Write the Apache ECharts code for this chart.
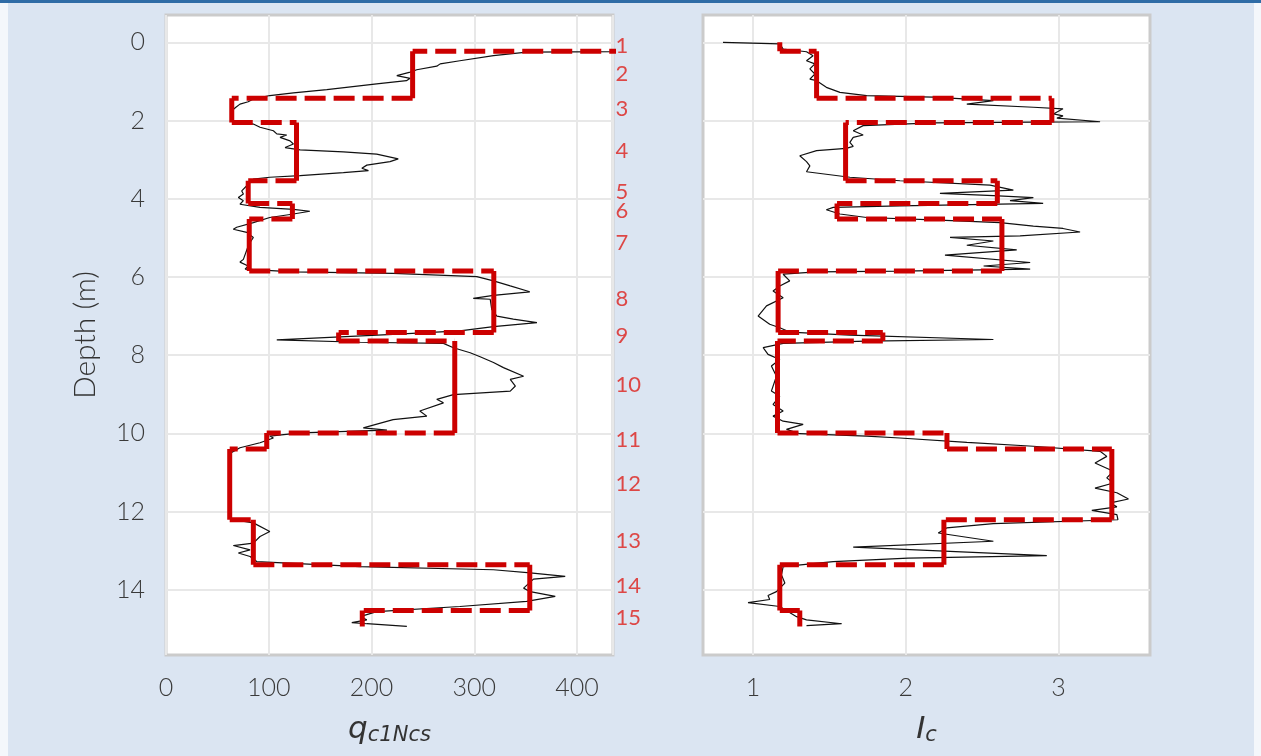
<!DOCTYPE html>
<html>
<head>
<meta charset="utf-8">
<script src="https://cdn.jsdelivr.net/npm/echarts@6/dist/echarts.min.js"></script>
<style>
html,body{margin:0;padding:0;background:#dbe5f2;}
#chart{width:1261px;height:756px;}
</style>
</head>
<body>
<div id="chart"></div>
<script>
// ---- measured profile: q_c1Ncs vs depth ----
const qcDepth = [0.22,0.235,0.25,0.34,0.47,0.55,0.61,0.70,0.76,0.85,0.92,0.98,1.06,1.21,1.29,1.36,1.45,1.52,1.58,1.66,1.75,1.90,2.00,2.05,2.09,2.17,2.26,2.34,2.37,2.43,2.52,2.60,2.69,2.75,2.80,2.86,2.98,3.05,3.14,3.22,3.28,3.33,3.41,3.45,3.50,3.63,3.80,3.88,3.97,4.05,4.14,4.22,4.27,4.32,4.39,4.48,4.61,4.73,4.78,4.86,4.99,5.12,5.21,5.55,5.62,5.72,5.80,5.87,5.91,5.99,6.10,6.23,6.38,6.47,6.55,6.57,6.83,7.00,7.08,7.17,7.27,7.38,7.47,7.61,7.67,7.70,7.81,7.94,8.04,8.19,8.32,8.54,8.62,8.79,8.92,9.01,9.13,9.22,9.43,9.56,9.65,9.86,9.92,9.99,10.07,10.12,10.24,10.37,10.50,11.00,11.50,12.00,12.20,12.29,12.51,12.64,12.81,12.87,12.98,13.06,13.15,13.28,13.41,13.49,13.57,13.66,13.73,13.96,14.05,14.17,14.30,14.43,14.56,14.69,14.77,14.84,14.87,14.94];
const qcVal = [445,435.6,351,318.7,286,266.8,263.5,244,237.6,224.6,237.6,234,205,156.5,124,101,85,80,72,68,64,63,66,75,85,91.5,104.5,107.8,117.5,111,120.7,124,115.9,130.5,172.6,205,226,218,195.4,190.6,197,172.6,130.5,101,85,80,73.7,75.3,70.4,75.3,72,91.5,124,140,124,101,85,68.8,65.5,78.6,85,81.8,80,75.3,72,80,77,124,221,302.5,318.7,335,354,318.7,299,315.5,317,322,338,361,318.7,286,221,107.8,189,270,279.7,296,305.7,318.7,328.4,348,335,340,335,279.7,263.5,270,247,253.8,221,192,215,130.5,101,104.5,91.5,72,63,62,61,62,64,85,101,91.5,85,65.5,81.8,70.4,81.8,88.3,189,318.7,354.4,388.5,357.6,348,354.4,378.8,351,286,205,189,195.4,180.8,195.4,234.4];

// ---- measured profile: Ic vs depth ----
const icDepth = [0.00,0.04,0.17,0.24,0.34,0.47,0.55,0.68,0.81,0.94,0.98,1.15,1.28,1.36,1.40,1.49,1.58,1.66,1.70,1.83,1.88,1.94,2.03,2.04,2.06,2.13,2.26,2.37,2.43,2.56,2.66,2.71,2.77,2.90,3.05,3.16,3.31,3.45,3.54,3.65,3.78,3.86,3.92,3.97,4.05,4.12,4.18,4.22,4.28,4.39,4.48,4.54,4.61,4.70,4.76,4.85,4.95,4.99,5.08,5.19,5.31,5.44,5.63,5.72,5.80,5.85,5.87,5.93,6.10,6.23,6.36,6.53,6.74,7.00,7.21,7.30,7.41,7.49,7.60,7.64,7.70,7.81,7.98,8.11,8.28,8.54,8.92,9.05,9.26,9.43,9.56,9.69,9.77,9.90,10.01,10.07,10.12,10.23,10.33,10.46,10.59,10.76,10.97,11.14,11.27,11.40,11.52,11.68,11.78,11.88,11.97,12.08,12.21,12.31,12.42,12.55,12.76,12.91,13.13,13.19,13.28,13.41,13.62,13.83,14.05,14.15,14.25,14.33,14.43,14.69,14.77,14.87,14.92];
const icVal = [0.803,1.175,1.197,1.35,1.393,1.35,1.405,1.372,1.405,1.372,1.416,1.48,1.569,1.744,2.18,2.574,2.40,2.836,3.03,2.967,3.03,2.99,3.273,2.836,2.18,1.721,1.656,1.721,1.656,1.634,1.656,1.61,1.416,1.306,1.35,1.372,1.35,1.634,1.962,2.552,2.705,2.224,2.574,2.836,2.683,2.90,1.962,1.525,1.48,1.569,1.744,2.18,2.618,2.836,3.03,3.142,2.749,2.29,2.574,2.40,2.727,2.257,2.815,2.51,2.815,1.962,1.416,1.197,1.24,1.175,1.131,1.197,1.088,1.033,1.109,1.175,1.24,1.634,2.574,1.744,1.197,1.066,1.098,1.175,1.12,1.153,1.12,1.175,1.131,1.197,1.131,1.197,1.328,1.219,1.306,1.744,1.962,2.40,2.836,3.273,3.317,3.24,3.36,3.317,3.36,3.24,3.383,3.459,3.34,3.383,3.219,3.383,3.39,2.574,2.268,2.213,2.574,1.656,2.924,2.016,1.525,1.197,1.186,1.208,1.153,1.098,1.109,0.967,1.175,1.285,1.35,1.58,1.35];

// ---- interpreted layers ----
const layerTop    = [0.00,0.23,1.43,2.05,3.54,4.12,4.52,5.85,7.42,7.64,9.99,10.40,12.21,13.36,14.53];
const layerBottom = [0.23,1.43,2.05,3.54,4.12,4.52,5.85,7.42,7.64,9.99,10.40,12.21,13.36,14.53,14.94];
const layerQc = [480,240,64,127,80,123,81,319,168,281,98,62,85,354,191];
const layerIc = [1.175,1.416,2.957,1.606,2.60,1.55,2.63,1.164,1.85,1.16,2.27,3.35,2.25,1.175,1.306];
const layerNames = ['1','2','3','4','5','6','7','8','9','10','11','12','13','14','15'];
const layerLabelDepth = [0.08,0.81,1.70,2.77,3.82,4.31,5.12,6.57,7.52,8.77,10.16,11.29,12.75,13.90,14.72];

const depthTicks = [0,2,4,6,8,10,12,14];
const icTicks = [1,2,3];

function pairs(xs, ys){ return xs.map((x,i)=>[x, ys[i]]); }
function verticalSegs(vals){
  const out=[];
  vals.forEach((v,i)=>{ out.push([v,layerTop[i]],[v,layerBottom[i]],[null,null]); });
  return out;
}
function horizontalSegs(vals){
  const out=[];
  for(let i=0;i<vals.length-1;i++){
    out.push([vals[i],layerBottom[i]],[vals[i+1],layerTop[i+1]],[null,null]);
  }
  return out;
}

const RED = '#cc0000';
const tickFont = {fontFamily:'Lato, Noto Sans', fontWeight:300, fontSize:25, color:'#3a3a3a'};
const gridBase = {top:15, height:640, width:447, show:true, backgroundColor:'#ffffff', borderColor:'#cbcbcb', borderWidth:3, containLabel:false};
const splitLine = {show:true, lineStyle:{color:'#e8e8e8', width:2}};

const chart = echarts.init(document.getElementById('chart'), null, {renderer:'canvas'});
chart.setOption({
  backgroundColor:'#dbe5f2',
  animation:false,
  graphic:[
    {type:'rect', shape:{x:0,y:0,width:1261,height:3}, style:{fill:'#2f6ca6'}, z:100},
    {type:'rect', shape:{x:0,y:3,width:8,height:753}, style:{fill:'#f4f7fb'}, z:100},
    {type:'rect', shape:{x:1254,y:3,width:7,height:753}, style:{fill:'#f4f7fb'}, z:100}
  ],
  grid:[
    Object.assign({left:166}, gridBase),
    Object.assign({left:703}, gridBase)
  ],
  xAxis:[
    {type:'value', gridIndex:0, min:0, max:435, interval:100, position:'bottom',
     axisLine:{show:false}, axisTick:{show:false},
     axisLabel:Object.assign({margin:20, showMaxLabel:false}, tickFont),
     splitLine:splitLine,
     name:'{i|q}{s|c1Ncs}', nameLocation:'middle', nameGap:58,
     nameTextStyle:{rich:{
       i:{fontFamily:'DejaVu Sans', fontStyle:'italic', fontSize:31, color:'#333'},
       s:{fontFamily:'DejaVu Sans', fontStyle:'italic', fontSize:21, color:'#333', padding:[12,0,0,0]}
     }}},
    {type:'value', gridIndex:1, min:0.672, max:3.60, position:'bottom',
     axisLine:{show:false}, axisTick:{show:false, customValues:icTicks},
     axisLabel:Object.assign({margin:20, customValues:icTicks}, tickFont),
     splitLine:splitLine,
     name:'{i|I}{s|c}', nameLocation:'middle', nameGap:58,
     nameTextStyle:{rich:{
       i:{fontFamily:'DejaVu Sans', fontStyle:'italic', fontSize:31, color:'#333'},
       s:{fontFamily:'DejaVu Sans', fontStyle:'italic', fontSize:21, color:'#333', padding:[12,0,0,0]}
     }}}
  ],
  yAxis:[
    {type:'value', gridIndex:0, inverse:true, min:-0.7, max:15.67,
     axisLine:{show:false}, axisTick:{show:false, customValues:depthTicks},
     axisLabel:Object.assign({margin:21, customValues:depthTicks}, tickFont),
     splitLine:splitLine,
     name:'Depth (m)', nameLocation:'middle', nameGap:66,
     nameTextStyle:{fontFamily:'Lato, Noto Sans', fontWeight:300, fontSize:30, color:'#333'}},
    {type:'value', gridIndex:1, inverse:true, min:-0.7, max:15.67,
     axisLine:{show:false}, axisTick:{show:false, customValues:depthTicks},
     axisLabel:{show:false, customValues:depthTicks},
     splitLine:splitLine}
  ],
  series:[
    {type:'line', xAxisIndex:0, yAxisIndex:0, data:pairs(qcVal, qcDepth), showSymbol:false, symbol:'none',
     lineStyle:{color:'#111', width:1.2}, z:2, clip:true},
    {type:'line', xAxisIndex:0, yAxisIndex:0, data:verticalSegs(layerQc), symbol:'none', connectNulls:false,
     lineStyle:{color:RED, width:5}, z:3, clip:true},
    {type:'line', xAxisIndex:0, yAxisIndex:0, data:horizontalSegs(layerQc), symbol:'none', connectNulls:false,
     lineStyle:{color:RED, width:5, type:[21,8]}, z:3, clip:true},
    {type:'line', xAxisIndex:1, yAxisIndex:1, data:pairs(icVal, icDepth), showSymbol:false, symbol:'none',
     lineStyle:{color:'#111', width:1.2}, z:2, clip:true},
    {type:'line', xAxisIndex:1, yAxisIndex:1, data:verticalSegs(layerIc), symbol:'none', connectNulls:false,
     lineStyle:{color:RED, width:5}, z:3, clip:true},
    {type:'line', xAxisIndex:1, yAxisIndex:1, data:horizontalSegs(layerIc), symbol:'none', connectNulls:false,
     lineStyle:{color:RED, width:5, type:[21,8]}, z:3, clip:true},
    {type:'scatter', xAxisIndex:0, yAxisIndex:0, clip:false, symbolSize:1,
     itemStyle:{color:'rgba(0,0,0,0)'},
     data:layerLabelDepth.map((d,i)=>({value:[435,d], name:layerNames[i]})),
     label:{show:true, position:'right', distance:2, formatter:p=>p.name,
            fontFamily:'Lato, Noto Sans', fontWeight:'normal', fontSize:22, color:'#dd1f1a'}, z:5}
  ]
});
</script>
</body>
</html>
